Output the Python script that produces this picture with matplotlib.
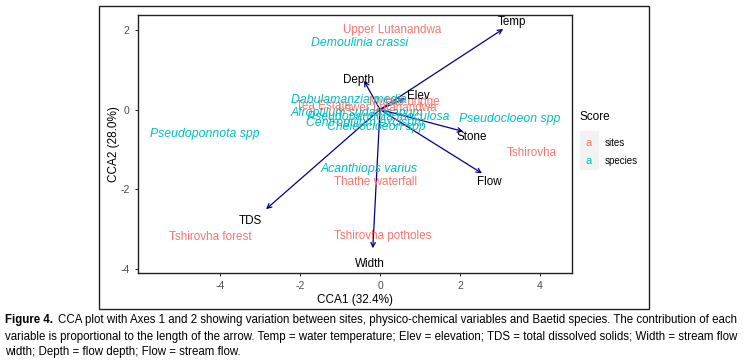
import matplotlib.pyplot as plt
from matplotlib.patches import Rectangle

plt.rcParams['font.family'] = ['Liberation Sans', 'DejaVu Sans']
plt.rcParams['axes.unicode_minus'] = False

# site scores
sites = ["Upper Lutanandwa", "Tshirovha", "Thathe waterfall", "Tshirovha forest",
         "Tshirovha potholes", "Tea Estate", "Mutale bridge", "Lower Lutanandwa"]
site_x = [0.30, 3.80, -0.10, -4.25, 0.08, -1.42, 0.62, 0.18]
site_y = [2.00, -1.08, -1.83, -3.20, -3.18, 0.08, 0.20, 0.03]

# species scores
species = ["Demoulinia crassi", "Pseudoponnota spp", "Acanthiops varius", "Pseudocloeon spp",
           "Dabulamanzia media", "Pseudopannota maculosa", "Afroptilum sudafricanum",
           "Centroptilum excisum", "Cheleocloeon spp"]
sp_x = [-0.50, -4.38, -0.27, 3.25, -0.78, -0.05, -0.58, -0.37, -0.10]
sp_y = [1.68, -0.62, -1.48, -0.25, 0.25, -0.20, -0.08, -0.35, -0.45]

# environmental vectors (tips) and label positions
env = ["Temp", "Depth", "Elev", "Stone", "Flow", "TDS", "Width"]
env_x = [3.08, -0.40, 0.63, 2.08, 2.55, -2.85, -0.18]
env_y = [2.02, 0.72, 0.28, -0.55, -1.60, -2.50, -3.48]
lab_x = [3.30, -0.55, 0.95, 2.30, 2.73, -3.23, -0.25]
lab_y = [2.20, 0.75, 0.35, -0.70, -1.83, -2.80, -3.88]

site_col = '#F8766D'
sp_col = '#00BFC4'

fig = plt.figure(figsize=(7.47, 3.63), dpi=100)
ax = fig.add_axes([138/747, 1-273/363, (572-138)/747, (273-15)/363])

for i in range(len(env)):
    ax.annotate('', xy=(env_x[i], env_y[i]), xytext=(0, 0),
                arrowprops=dict(arrowstyle='->', color='#00008B', lw=0.9,
                                shrinkA=0, shrinkB=0, mutation_scale=8))

for i in range(len(sites)):
    ax.text(site_x[i], site_y[i], sites[i], color=site_col, fontsize=8.4,
            ha='center', va='center')
for i in range(len(species)):
    ax.text(sp_x[i], sp_y[i], species[i], color=sp_col, fontsize=8.8,
            ha='center', va='center', style='italic')
for i in range(len(env)):
    ax.text(lab_x[i], lab_y[i], env[i], color='black', fontsize=8.4,
            ha='center', va='center')

ax.set_xlim(-6.05, 4.8)
ax.set_ylim(-4.1, 2.37)
ax.set_xticks([-4, -2, 0, 2, 4])
ax.set_yticks([-4, -2, 0, 2])
ax.tick_params(labelsize=7.5, labelcolor='#4D4D4D', length=2.5, width=0.6)
for s in ax.spines.values():
    s.set_linewidth(1.0)
    s.set_color('#222222')
ax.set_xlabel('CCA1 (32.4%)', fontsize=8.5, labelpad=2)
ax.set_ylabel('CCA2 (28.0%)', fontsize=8.5, labelpad=0)

# legend
fig.text(580/747, 1-117/363, 'Score', fontsize=8.5, va='center')
fig.patches.append(Rectangle((580/747, 1-169/363), 18/747, 38/363,
                             transform=fig.transFigure, color='#F2F2F2', zorder=0))
fig.text(589/747, 1-143/363, 'a', color=site_col, fontsize=8, ha='center', va='center')
fig.text(589/747, 1-161/363, 'a', color=sp_col, fontsize=8, ha='center', va='center')
fig.text(605/747, 1-143/363, 'sites', fontsize=7, va='center')
fig.text(605/747, 1-161/363, 'species', fontsize=7, va='center')

# outer frame
fig.patches.append(Rectangle((99/747, 1-309/363), 550/747, 303/363, transform=fig.transFigure,
                             fill=False, edgecolor='#222222', lw=1.0))

# caption
cap_font = ['Liberation Sans Narrow', 'Liberation Sans', 'DejaVu Sans']
cap1 = "CCA plot with Axes 1 and 2 showing variation between sites, physico-chemical variables and Baetid species. The contribution of each"
cap2 = "variable is proportional to the length of the arrow. Temp = water temperature; Elev = elevation; TDS = total dissolved solids; Width = stream flow"
cap3 = "width; Depth = flow depth; Flow = stream flow."
b = fig.text(5/747, 1-320/363, 'Figure 4.', fontsize=8.3, weight='bold', family=cap_font, va='center')
fig.canvas.draw()
bb = b.get_window_extent()
fig.text((bb.x1 + 5)/747, 1-320/363, cap1, fontsize=8.3, family=cap_font, va='center')
fig.text(5/747, 1-337/363, cap2, fontsize=8.3, family=cap_font, va='center')
fig.text(5/747, 1-352/363, cap3, fontsize=8.3, family=cap_font, va='center')

fig.savefig('out.png', dpi=100)
